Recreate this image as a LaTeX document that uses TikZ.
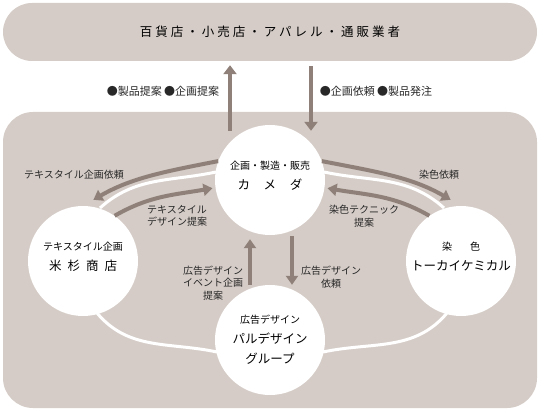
\documentclass[tikz,border=0pt]{standalone}
\usepackage{fontspec}
\setmainfont{Noto Sans CJK JP}
\usetikzlibrary{arrows.meta}
\definecolor{panelgray}{RGB}{213,204,199}
\definecolor{flowbrown}{RGB}{143,129,121}
\definecolor{labelgray}{RGB}{40,40,40}

\begin{document}
\begin{tikzpicture}[
    x=1pt, y=1pt,
    panel/.style={fill=panelgray, draw=none, inner sep=0},
    firm/.style={circle, fill=white, minimum size=110pt, inner sep=0, align=center, text=black, font=\fontsize{12.5}{20}\selectfont},
    raised/.style={text depth=10pt},
    flow/.style={-{Triangle[length=9pt, width=12pt]}, line width=4pt, draw=flowbrown},
    link/.style={draw=white, line width=3pt},
    note/.style={font=\fontsize{10}{12.5}\selectfont, text=labelgray, align=center, inner sep=0}
]
\useasboundingbox (0,0) rectangle (540,410);

% panels
\node[panel, rounded corners=29pt, minimum width=534pt, minimum height=58pt,
      font=\fontsize{12.5}{15}\selectfont\addfontfeature{LetterSpace=24}] (market) at (270,378) {百貨店・小売店・アパレル・通販業者};
\node[panel, rounded corners=30pt, minimum width=534pt, minimum height=296pt] (field) at (270,150) {};

% white ring between the companies
\draw[link] (83+17,149+53) to[out=42, in=192] (270-54,230+8)
            (270+54,230+8) to[out=-12, in=138] (461-17,149+53)
            (83+14,149-52) to[out=-50, in=168] (270-53,70-12)
            (270+53,70-12) to[out=12, in=230] (461-14,149-52);

% companies
\node[firm, raised] (kameda) at (270,230) {{\fontsize{10}{12}\selectfont 企画・製造・販売}\\{\addfontfeature{LetterSpace=110}カメダ}};
\node[firm, raised] (yonesugi) at (83,149) {{\fontsize{10}{12}\selectfont テキスタイル企画}\\{\addfontfeature{LetterSpace=48}米杉商店}};
\node[firm, raised] (tokai) at (461,149) {{\fontsize{10}{12}\selectfont\addfontfeature{LetterSpace=180}染色}\\トーカイケミカル};
\node[firm] (pal) at (270,70) {{\fontsize{10}{12}\selectfont 広告デザイン}\\パルデザイン\\グループ};

% market <-> kameda
\draw[flow, -{Triangle[length=9pt, width=13pt]}] ([shift={(-40,-6)}]kameda.north) -- ([shift={(-40,-4)}]market.south);
\draw[flow, -{Triangle[length=9pt, width=13pt]}] ([shift={(41,-5)}]market.south) -- ([shift={(41,-6)}]kameda.north);
\node[note, font=\fontsize{11}{12.5}\selectfont] (askup) at (163,319) {●製品提案 ●企画提案};
\node[note, font=\fontsize{11}{12.5}\selectfont] (askdown) at (376,319) {●企画依頼 ●製品発注};

% kameda <-> pal
\draw[flow] ([xshift=-20pt]pal.north) -- ([shift={(-20,-4)}]kameda.south);
\draw[flow] ([shift={(22,-1)}]kameda.south) -- ([xshift=22pt]pal.north);
\node[note] (adpropose) at (213,127) {広告デザイン\\イベント企画\\提案};
\node[note] (adorder) at (331,133) {広告デザイン\\依頼};

% kameda <-> yonesugi
\draw[flow, shorten >=12pt] (kameda.160) to[out=191, in=30] (yonesugi.north);
\draw[flow, shorten >=3pt] (yonesugi.55) to[out=30, in=190] (kameda.188);
\node[note] (textileorder) at (74,235) {テキスタイル企画依頼};
\node[note, anchor=west, align=left] (textilepropose) at (147,194) {テキスタイル\\デザイン提案};

% kameda <-> tokai
\draw[flow, shorten >=12pt] (kameda.20) to[out=-11, in=150] (tokai.north);
\draw[flow, shorten >=3pt] (tokai.125) to[out=150, in=-10] (kameda.-8);
\node[note] (dyeorder) at (439,235) {染色依頼};
\node[note] (dyepropose) at (364,194) {染色テクニック\\提案};

\end{tikzpicture}
\end{document}
